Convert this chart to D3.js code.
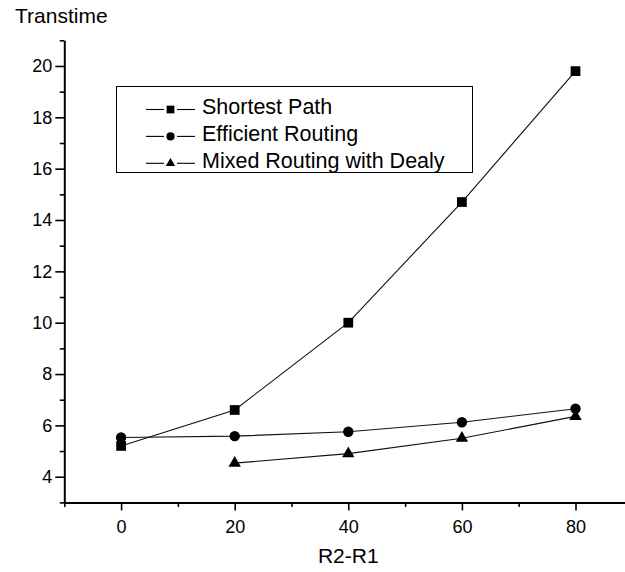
<!DOCTYPE html>
<html>
<head>
<meta charset="utf-8">
<script src="https://cdn.jsdelivr.net/npm/d3@7"></script>
<style>
  body { margin: 0; background: #fff; }
  svg { display: block; font-family: "Liberation Sans", Arial, sans-serif; }
</style>
</head>
<body>
<div id="chart"></div>
<script>
// data
const xValues = [0, 20, 40, 60, 80];
const shortestPath = [5.2, 6.6, 10.0, 14.7, 19.8];
const efficientRouting = [5.53, 5.58, 5.75, 6.12, 6.65];
const mixedRouting = [null, 4.53, 4.9, 5.5, 6.35];
const seriesNames = ["Shortest Path", "Efficient Routing", "Mixed Routing with Dealy"];
const xMajorTicks = [0, 20, 40, 60, 80];
const xMinorTicks = [-10, 10, 30, 50, 70, 90];
const yMajorTicks = [4, 6, 8, 10, 12, 14, 16, 18, 20];
const yMinorTicks = [3, 5, 7, 9, 11, 13, 15, 17, 19, 21];

const width = 625;
const height = 572;

const svg = d3.select("#chart")
    .append("svg")
    .attr("width", width)
    .attr("height", height);

const x = d3.scaleLinear().domain([-10, 90]).range([64.3, 632.3]);
const y = d3.scaleLinear().domain([3, 21]).range([502.4, 40.3]);

// axes
svg.append("g")
    .attr("transform", `translate(${x(-10)},0)`)
    .call(d3.axisLeft(y).tickValues(yMajorTicks).tickSize(9).tickPadding(3).tickSizeOuter(0));
svg.append("g")
    .attr("transform", `translate(${x(-10)},0)`)
    .call(d3.axisLeft(y).tickValues(yMinorTicks).tickSize(4.5).tickFormat("").tickSizeOuter(0))
    .select(".domain").remove();

svg.append("g")
    .attr("transform", `translate(0,${y(3)})`)
    .call(d3.axisBottom(x).tickValues(xMajorTicks).tickSize(8).tickPadding(10).tickSizeOuter(0));
svg.append("g")
    .attr("transform", `translate(0,${y(3)})`)
    .call(d3.axisBottom(x).tickValues(xMinorTicks).tickSize(4.5).tickFormat("").tickSizeOuter(0))
    .select(".domain").remove();

svg.selectAll(".domain").attr("stroke", "#000").attr("stroke-width", 2);
svg.selectAll(".tick line").attr("stroke", "#000").attr("stroke-width", 1.6);
svg.selectAll(".tick text")
    .attr("fill", "#000")
    .style("font-size", "18px")
    .style("font-family", "'Liberation Sans', Arial, sans-serif");

// axis titles
svg.append("text")
    .attr("x", 15)
    .attr("y", 23)
    .style("font-size", "21px")
    .text("Transtime");

svg.append("text")
    .attr("x", x(40))
    .attr("y", 563)
    .attr("text-anchor", "middle")
    .style("font-size", "21px")
    .text("R2-R1");

// series
const series = [
    { name: seriesNames[0], values: shortestPath, symbol: d3.symbolSquare, size: 95, legendSize: 60 },
    { name: seriesNames[1], values: efficientRouting, symbol: d3.symbolCircle, size: 85, legendSize: 52 },
    { name: seriesNames[2], values: mixedRouting, symbol: d3.symbolTriangle, size: 66, legendSize: 38 }
];

const line = d3.line()
    .defined(d => d[1] != null)
    .x(d => x(d[0]))
    .y(d => y(d[1]));

series.forEach(s => {
    const pts = xValues.map((v, i) => [v, s.values[i]]);
    svg.append("path")
        .datum(pts)
        .attr("d", line)
        .attr("fill", "none")
        .attr("stroke", "#111")
        .attr("stroke-width", 1.1);

    svg.selectAll(null)
        .data(pts.filter(d => d[1] != null))
        .enter()
        .append("path")
        .attr("d", d3.symbol().type(s.symbol).size(s.size))
        .attr("transform", d => `translate(${x(d[0])},${y(d[1])})`)
        .attr("fill", "#000");
});

// legend
const legend = svg.append("g");
legend.append("rect")
    .attr("x", 116.5)
    .attr("y", 86.5)
    .attr("width", 356)
    .attr("height", 86)
    .attr("fill", "#fff")
    .attr("stroke", "#000")
    .attr("stroke-width", 1);

series.forEach((s, i) => {
    const cy = 109.5 + i * 26.9;
    const row = legend.append("g").attr("transform", `translate(0,${cy})`);
    row.append("line")
        .attr("x1", 146).attr("x2", 164)
        .attr("stroke", "#000").attr("stroke-width", 1.1);
    row.append("line")
        .attr("x1", 177).attr("x2", 195)
        .attr("stroke", "#000").attr("stroke-width", 1.1);
    row.append("path")
        .attr("d", d3.symbol().type(s.symbol).size(s.legendSize))
        .attr("transform", "translate(170.5,0)")
        .attr("fill", "#000");
    row.append("text")
        .attr("x", 202)
        .attr("y", 4.5)
        .style("font-size", "21.5px")
        .text(s.name);
});
</script>
</body>
</html>
